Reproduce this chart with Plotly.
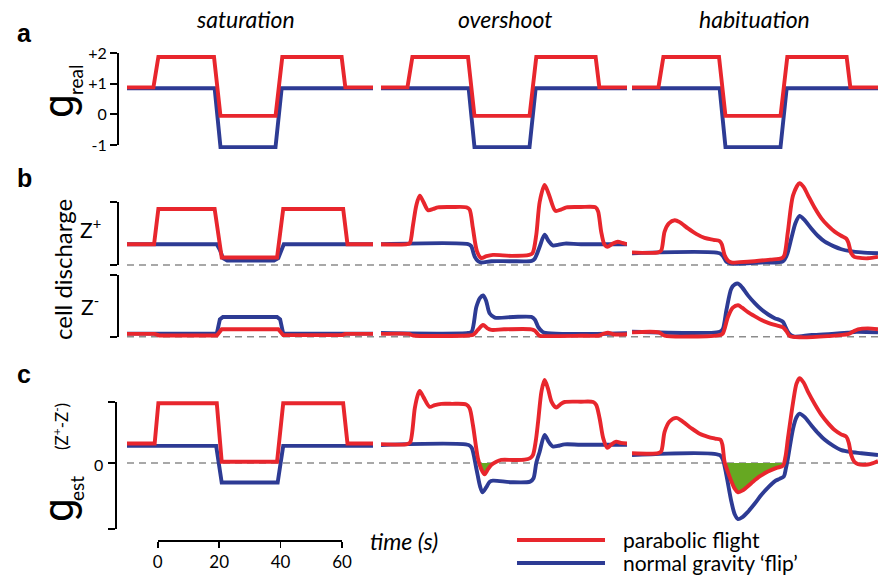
import numpy as np
import plotly.graph_objects as go

# ---------------- data (time in s) ----------------
# panel a: real gravity (g), identical in all three columns
A_RED_T = [-10, -1.4, 0.2, 18.3, 20.4, 38.3, 40.5, 59.8, 61.0, 70]
A_RED_V = [0.88, 0.88, 1.87, 1.87, -0.05, -0.05, 1.87, 1.87, 0.88, 0.88]
A_BLUE_T = [-10, 18.5, 20.4, 38.3, 40.3, 70]
A_BLUE_V = [0.85, 0.85, -1.07, -1.07, 0.85, 0.85]

# ---- saturation column ----
SAT_ZP_RED_T = [-10, -1.2, 0.2, 18.5, 20.8, 38.8, 40.8, 60.3, 61.7, 70]
SAT_ZP_RED_V = [33, 33, 89, 89, 12, 12, 89, 89, 33, 33]
SAT_ZP_BLUE_T = [-10, 19.2, 20.2, 21.2, 22.6, 37.8, 39.2, 40.1, 41.0, 70]
SAT_ZP_BLUE_V = [33, 33, 24, 11, 7, 7, 11, 24, 33, 33]
SAT_ZM_RED_T = [-10, -1, 0.5, 19.2, 20.8, 39.2, 40.8, 60, 61, 70]
SAT_ZM_RED_V = [4.5, 4.5, 2, 2, 12, 12, 2.5, 2.5, 4.5, 4.5]
SAT_ZM_BLUE_T = [-10, 19.2, 20.2, 21.2, 38.8, 39.8, 40.8, 70]
SAT_ZM_BLUE_V = [5, 5, 28, 32, 32, 28, 5, 5]
SAT_C_RED_T = [-10, -1.0, 0.2, 19.2, 20.8, 38.8, 40.8, 60.3, 61.7, 70]
SAT_C_RED_V = [32, 32, 98, 98, 2, 2, 98, 98, 32, 32]
SAT_C_BLUE_T = [-10, 19.0, 20.8, 39.0, 40.8, 70]
SAT_C_BLUE_V = [28, 28, -32, -32, 28, 28]

# ---- overshoot column ----
OVR_ZP_RED_T = [-10, -1.5, -0.6, 0.4, 1.5, 2.6, 3.8, 5.3, 7, 8.5, 13, 17.8, 18.8, 19.9, 21.2, 22.6,
                24.3, 26.4, 32.4, 38.2, 39.3, 40.5, 41.6, 43.2, 44.6, 46.7, 48.5, 50.3, 55, 59.8,
                60.6, 61.6, 62.6, 63.6, 65.4, 67, 68.5, 70]
OVR_ZP_RED_V = [33, 33, 35, 63, 95, 110, 100, 87, 89, 91.5, 92, 91.5, 88, 58, 22, 11,
                14, 16, 14.5, 16, 19, 48, 100, 127, 112, 86, 88, 91.5, 92, 91.5,
                85, 53, 33, 29, 34, 37, 35, 33]
OVR_ZP_BLUE_T = [-10, 18.3, 19.3, 20.5, 21.6, 22.6, 25.9, 32, 39, 40, 41.6, 43.2, 44.5, 45.9, 47.5,
                 49.8, 55, 70]
OVR_ZP_BLUE_V = [33, 33, 30, 13, 6, 4, 6, 6, 6.5, 10, 29, 48, 38, 31, 32, 34, 33, 33]
OVR_ZM_RED_T = [-10, -1, 0.5, 18.5, 20, 21.5, 23.2, 24.5, 25.9, 30, 38.9, 40, 41.6, 43, 55, 61,
                62.5, 63.8, 65.5, 70]
OVR_ZM_RED_V = [4.5, 4.5, 2, 2, 3, 11, 19, 14, 11, 12, 12, 10, 1.5, 1, 1.5, 2, 5, 6.5, 4, 4]
OVR_ZM_BLUE_T = [-10, 18.3, 19.5, 21, 22.2, 23.2, 24.2, 25.3, 27, 33, 38.9, 40, 41.1, 42.5, 43.5,
                 49.8, 60, 70]
OVR_ZM_BLUE_V = [6, 6, 8, 48, 63, 67, 58, 38, 31, 32, 32, 28, 16, 8, 6, 4.5, 4.5, 5.5]
OVR_C_RED_T = [-10, -1.5, -0.5, 1, 2, 2.6, 3.8, 5.8, 7.5, 9.6, 13, 17.7, 18.8, 19.9, 21.5, 22.6,
               23.7, 24.8, 25.9, 27.5, 29.1, 33, 36.7, 38.5, 39.4, 40.3, 41.1, 42.2, 43.2, 44.3,
               45.5, 47, 48.5, 49.7, 55, 59, 60, 61.1, 62.3, 63.6, 64.8, 66.5, 68, 70]
OVR_C_RED_V = [31, 31, 34, 90, 112, 118, 108, 92, 95, 97, 97, 96, 90, 62, 8, -10,
               -18.5, -10, -3, 2, 5, 5, 5.5, 8, 13, 35, 68, 118, 136, 122,
               100, 91, 97, 100, 100.5, 100, 95, 73, 40, 25, 30, 35, 33, 32]
OVR_C_BLUE_T = [-10, 18.5, 19.5, 21, 22.2, 23, 24.2, 25.3, 26.4, 32.4, 38.5, 39.6, 40.5, 41.6,
                43.2, 44.5, 45.9, 47.5, 49.7, 55, 70]
OVR_C_BLUE_V = [29.5, 29.5, 25, -9, -38, -48, -40, -31, -29, -31.5, -30.5, -25, 0, 18.5,
                46, 35, 27, 28, 30.5, 30, 30]
OVR_FILL_SPAN = [21.5, 27.5]

# ---- habituation column ----
HAB_ZP_RED_T = [-10, -1.5, -0.5, 0.6, 2, 3.9, 5.5, 8.2, 11, 13.6, 16.5, 18.5, 19.2, 20.1, 21.2,
                22.3, 25, 29.9, 35, 38.6, 39.5, 40.7, 42.4, 44.5, 45.8, 47.2, 49.5, 51.6, 53.8,
                55.9, 58, 59.7, 60.4, 61.3, 62.3, 63.5, 66.7, 70]
HAB_ZP_RED_V = [20, 20, 23, 53, 66, 71, 68, 58, 49, 43, 40, 38, 33, 16, 7,
                4, 4.5, 6, 8.5, 10.6, 15, 53, 111, 130, 124, 111, 90, 74, 62,
                53, 46.5, 42, 35, 18.6, 13, 11.6, 10.6, 13]
HAB_ZP_BLUE_T = [-10, 18.5, 19.6, 20.7, 22, 23.4, 32, 39.1, 40.3, 41.8, 43.2, 44.5, 46, 48.3,
                 50.5, 52.7, 55.5, 58.1, 61, 64.6, 70]
HAB_ZP_BLUE_V = [18.6, 18.6, 14, 5, 2.5, 2, 4, 6, 15, 42, 67, 78, 72, 58, 46, 37, 30, 25, 22, 20, 18.6]
HAB_ZM_RED_T = [-10, -1.2, 0.6, 18.5, 19.5, 21.2, 22.8, 24.5, 25.8, 27.7, 30, 32.1, 34.3, 36.4,
                39.1, 40.2, 41.3, 45, 53.7, 60.2, 61.8, 63.5, 66.7, 70]
HAB_ZM_RED_V = [7, 7, 1.6, 2.7, 5, 32, 47, 51, 47, 40, 33, 27, 22.5, 19, 15, 9, 1, -1, 1, 4, 8,
                12, 13.5, 12]
HAB_ZM_BLUE_T = [-10, 18.5, 19.5, 20.7, 22.3, 23.5, 24.5, 25.8, 27.7, 30, 32.1, 34.3, 36.4, 38,
                 39.1, 39.8, 40.7, 41.8, 42.9, 48.5, 55, 60.2, 63, 70]
HAB_ZM_BLUE_V = [8, 8, 12, 43, 78, 85, 86, 80, 67, 54, 44, 36, 30, 27, 24, 17, 8, 2, 0, 2.7,
                 4.5, 6.5, 8, 7]
HAB_C_RED_T = [-10, -1.5, -0.5, 0.6, 2.2, 4.4, 6.5, 9.3, 12, 14.7, 17, 18.8, 19.4, 20.1, 21.2,
               22.3, 23.4, 24.5, 26, 28.8, 31.5, 34.2, 37, 39.1, 39.9, 40.7, 42.4, 43.5, 44.5,
               45.8, 47.2, 49.5, 51.6, 53.8, 55.9, 58, 59.7, 60.5, 61.3, 62.3, 63.5, 66.7, 68.5, 70]
HAB_C_RED_V = [16, 16, 19, 51, 68, 74, 68, 57, 48, 43, 40, 38, 30, 2, -15,
               -30, -42, -48, -45, -33, -22, -14, -8, -4.4, 10, 40, 100, 130, 139,
               132, 117, 96, 79, 65, 54, 47, 43, 33, 13, 2, -2, -2.5, 0, 3]
HAB_C_BLUE_T = [-10, 18.5, 19.6, 20.7, 22.3, 23.4, 24.5, 25.8, 27.7, 30, 32.1, 34.3, 36.4, 38,
                39.4, 40, 40.7, 42.4, 43.5, 44.5, 46, 48.3, 50.5, 52.7, 55.5, 58.1, 61, 64.6, 70]
HAB_C_BLUE_V = [13, 13, 5, -20, -63, -84, -92, -89, -80, -66, -52, -40, -30, -26,
                -22, -10, 7.7, 57, 75, 81, 76, 62, 49, 38, 28, 21, 18, 16, 13]
HAB_FILL_SPAN = [20.1, 39.9]

COLUMN_TITLES = ["saturation", "overshoot", "habituation"]
TIME_TICKS = [0, 20, 40, 60]
GREAL_TICKS = [-1, 0, 1, 2]
GREAL_TICKTEXT = ["-1", "0", "+1", "+2"]
LEGEND_LABELS = ["parabolic flight", "normal gravity \u2018flip\u2019"]

# ---------------- figure ----------------
W, H = 885, 577
RED = "#E8262D"
BLUE = "#2D3B94"
GREEN = "#66A822"
GREY = "#8C8C8C"
FONT = "Lato, Roboto, sans-serif"
GFONT = "Roboto, Lato, sans-serif"
LW = 3.9


def fx(p):
    return p / W


def fy(p):
    return 1 - p / H


def line(t, v, xa, ya, color, shape):
    ln = dict(color=color, width=LW, shape=shape)
    if shape == "spline":
        ln["smoothing"] = 0.8
    return go.Scatter(x=t, y=v, xaxis=xa, yaxis=ya, mode="lines", line=ln,
                      hoverinfo="skip", showlegend=False)


def green_fill(t, v, span, xa, ya):
    t = np.asarray(t, float)
    v = np.asarray(v, float)
    m = (t >= span[0]) & (t <= span[1])
    return go.Scatter(x=t[m], y=np.minimum(v[m], 0), xaxis=xa, yaxis=ya, mode="lines",
                      line=dict(width=0, shape="spline", smoothing=0.8), fill="tozeroy",
                      fillcolor=GREEN, hoverinfo="skip", showlegend=False)


fig = go.Figure()

columns = [
    ("x", "linear",
     (SAT_ZP_RED_T, SAT_ZP_RED_V, SAT_ZP_BLUE_T, SAT_ZP_BLUE_V),
     (SAT_ZM_RED_T, SAT_ZM_RED_V, SAT_ZM_BLUE_T, SAT_ZM_BLUE_V),
     (SAT_C_RED_T, SAT_C_RED_V, SAT_C_BLUE_T, SAT_C_BLUE_V), None),
    ("x2", "spline",
     (OVR_ZP_RED_T, OVR_ZP_RED_V, OVR_ZP_BLUE_T, OVR_ZP_BLUE_V),
     (OVR_ZM_RED_T, OVR_ZM_RED_V, OVR_ZM_BLUE_T, OVR_ZM_BLUE_V),
     (OVR_C_RED_T, OVR_C_RED_V, OVR_C_BLUE_T, OVR_C_BLUE_V), OVR_FILL_SPAN),
    ("x3", "spline",
     (HAB_ZP_RED_T, HAB_ZP_RED_V, HAB_ZP_BLUE_T, HAB_ZP_BLUE_V),
     (HAB_ZM_RED_T, HAB_ZM_RED_V, HAB_ZM_BLUE_T, HAB_ZM_BLUE_V),
     (HAB_C_RED_T, HAB_C_RED_V, HAB_C_BLUE_T, HAB_C_BLUE_V), HAB_FILL_SPAN),
]

for xa, shape, zp, zm, cc, span in columns:
    fig.add_trace(line(A_BLUE_T, A_BLUE_V, xa, "y", BLUE, "linear"))
    fig.add_trace(line(A_RED_T, A_RED_V, xa, "y", RED, "linear"))
    for ya, (rt, rv, bt, bv) in (("y2", zp), ("y3", zm), ("y4", cc)):
        if ya == "y4" and span is not None:
            fig.add_trace(green_fill(rt, rv, span, xa, ya))
        fig.add_trace(line(bt, bv, xa, ya, BLUE, shape))
        fig.add_trace(line(rt, rv, xa, ya, RED, shape))

# empty traces to register the decoration axes
for xa, ya in (("x", "y5"), ("x", "y6"), ("x", "y7"), ("x", "y8"), ("x4", "y4")):
    fig.add_trace(go.Scatter(x=[None], y=[None], xaxis=xa, yaxis=ya, mode="lines",
                             hoverinfo="skip", showlegend=False))


def data_axis(top, bot, z0, s):
    return dict(domain=[fy(bot), fy(top)], range=[(z0 - bot) / s, (z0 - top) / s],
                visible=False, fixedrange=True)


def spine_axis(pos, top, bot, rng, tickvals, ticktext=None):
    d = dict(domain=[fy(bot), fy(top)], range=rng, anchor="free", position=fx(pos),
             showline=True, linecolor="black", linewidth=1.8, ticks="outside",
             ticklen=7, tickwidth=1.8, tickcolor="black", tickvals=tickvals,
             showgrid=False, zeroline=False, automargin=False,
             tickfont=dict(family=FONT, size=16, color="black"))
    if ticktext is None:
        d["showticklabels"] = False
    else:
        d["ticktext"] = ticktext
    return d


hidden_x = dict(range=[-10, 70], visible=False, fixedrange=True)
fig.update_layout(
    width=W, height=H, autosize=False,
    margin=dict(l=0, r=0, t=0, b=0, pad=0, autoexpand=False),
    paper_bgcolor="white", plot_bgcolor="rgba(0,0,0,0)", showlegend=False,
    font=dict(family=FONT, color="black"),
    xaxis=dict(domain=[fx(127), fx(373)], anchor="y", **hidden_x),
    xaxis2=dict(domain=[fx(381), fx(627)], anchor="y", **hidden_x),
    xaxis3=dict(domain=[fx(632), fx(878)], anchor="y", **hidden_x),
    xaxis4=dict(domain=[fx(157.75), fx(342)], range=[0, 60], anchor="free", position=fy(540),
                side="bottom", showline=True, linecolor="black", linewidth=1.8,
                ticks="outside", ticklen=6, tickwidth=1.8, tickcolor="black",
                tickvals=TIME_TICKS, showgrid=False, zeroline=False, automargin=False,
                tickfont=dict(family=FONT, size=17, color="black")),
    yaxis=data_axis(38, 160, 114.33, 30.667),
    yaxis2=data_axis(172, 271, 265, 0.63),
    yaxis3=data_axis(271, 345, 336.7, 0.617),
    yaxis4=data_axis(368, 534, 463, 0.61),
    yaxis5=spine_axis(117, 53, 145, [-1, 2], GREAL_TICKS, GREAL_TICKTEXT),
    yaxis6=spine_axis(117, 202, 265, [0, 100], [0, 100]),
    yaxis7=spine_axis(117, 275, 336.7, [0, 100], [0, 100]),
    yaxis8=spine_axis(115, 402, 529, [-108.2, 100], [-108.2, 0, 100]),
)

# dashed zero lines
for ya in ("y2", "y3", "y4"):
    fig.add_shape(type="line", xref="paper", yref=ya, x0=fx(127), x1=fx(880), y0=0, y1=0,
                  line=dict(color=GREY, width=1.4, dash="7px,5px"), layer="below")

# legend samples
for i, (c, lab) in enumerate(zip((RED, BLUE), LEGEND_LABELS)):
    yp = 540 + 23 * i
    fig.add_shape(type="line", xref="paper", yref="paper", x0=fx(517), x1=fx(605),
                  y0=fy(yp), y1=fy(yp), line=dict(color=c, width=4))
    fig.add_annotation(x=fx(621), y=fy(yp - 1), xref="paper", yref="paper", text=lab,
                       showarrow=False, xanchor="left", yanchor="middle",
                       font=dict(family=FONT, size=21, color="black"))


def ann(x, y, text, size, angle=0, xanchor="center", family=FONT):
    fig.add_annotation(x=fx(x), y=fy(y), xref="paper", yref="paper", text=text,
                       showarrow=False, xanchor=xanchor, yanchor="middle", textangle=angle,
                       font=dict(family=family, size=size, color="black"))


for cx, title in zip((245, 505, 754), COLUMN_TITLES):
    ann(cx, 19, "<i>%s</i>" % title, 23)

ann(24, 33, "<b>a</b>", 25, family="Liberation Sans, Arial, sans-serif")
ann(24, 178, "<b>b</b>", 25, family="Liberation Sans, Arial, sans-serif")
ann(24, 374, "<b>c</b>", 25, family="Liberation Sans, Arial, sans-serif")

ann(404, 541, "<i>time (s)</i>", 23)
ann(105, 464, "0", 16, xanchor="right")

# axis titles
ann(58, 106, "g", 42, angle=-90, family=GFONT)
ann(76, 80, "real", 19, angle=-90)
ann(62, 270, "cell discharge", 24, angle=-90)
ann(90, 228, "Z<sup>+</sup>", 21)
ann(90, 305, "Z<sup>-</sup>", 21)
ann(58, 510, "g", 42, angle=-90, family=GFONT)
ann(76, 489, "est", 19, angle=-90)
ann(60, 427, "(Z<sup>+</sup>-Z<sup>-</sup>)", 17, angle=-90)

# remove the default page margin so the figure fills the window exactly
fig.write_html("out.html", config={"staticPlot": True, "displayModeBar": False},
               post_script="document.body.style.margin='0px';")
